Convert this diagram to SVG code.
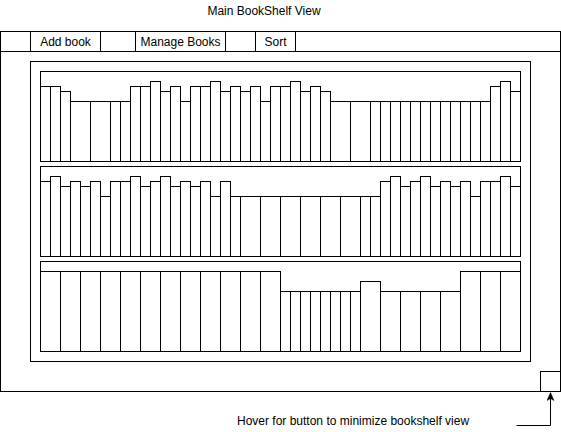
<svg xmlns="http://www.w3.org/2000/svg" width="561" height="432" viewBox="0 0 561 432">
<style>
rect, path, line { fill: #fff; stroke: #000; stroke-width: 1; }
.conn { fill: none; }
text { font-family: "Liberation Sans", Arial, sans-serif; font-size: 12px; fill: #000; }
.c { text-anchor: middle; }
</style>
<defs>
<marker id="arr" viewBox="0 0 8 8" refX="8" refY="4" markerWidth="8" markerHeight="8" orient="auto" markerUnits="userSpaceOnUse">
<path d="M0,0.5 L8,4 L0,7.5 L2,4 Z" style="fill:#000;stroke:#000;stroke-width:0.5"/>
</marker>
</defs>
<rect x="0" y="0" width="561" height="432" style="stroke:none;fill:#fff"/>
<text id="title" class="c" x="264" y="15">Main BookShelf View</text>
<g transform="translate(0.5,0.5)">
<g id="window">
<rect x="0" y="31" width="560" height="360"/>
<line x1="0" y1="51" x2="560" y2="51"/>
</g>
<g id="btn-add"><rect x="30" y="31" width="70" height="20"/></g>
<g id="btn-manage"><rect x="135" y="31" width="90" height="20"/></g>
<g id="btn-sort"><rect x="255" y="31" width="40" height="20"/></g>
<g id="frame"><rect x="30" y="61" width="500" height="300"/></g>
<g id="shelf1">
<rect x="40" y="71" width="480" height="90"/>
<rect x="40" y="86" width="10" height="75"/>
<rect x="50" y="86" width="10" height="75"/>
<rect x="60" y="91" width="10" height="70"/>
<rect x="70" y="101" width="20" height="60"/>
<rect x="90" y="101" width="20" height="60"/>
<rect x="110" y="101" width="10" height="60"/>
<rect x="120" y="101" width="10" height="60"/>
<rect x="130" y="86" width="10" height="75"/>
<rect x="140" y="86" width="10" height="75"/>
<rect x="150" y="81" width="10" height="80"/>
<rect x="160" y="91" width="10" height="70"/>
<rect x="170" y="86" width="10" height="75"/>
<rect x="180" y="101" width="10" height="60"/>
<rect x="190" y="86" width="10" height="75"/>
<rect x="200" y="86" width="10" height="75"/>
<rect x="210" y="81" width="10" height="80"/>
<rect x="220" y="91" width="10" height="70"/>
<rect x="230" y="86" width="10" height="75"/>
<rect x="240" y="91" width="10" height="70"/>
<rect x="250" y="86" width="10" height="75"/>
<rect x="260" y="101" width="10" height="60"/>
<rect x="270" y="86" width="10" height="75"/>
<rect x="280" y="86" width="10" height="75"/>
<rect x="290" y="81" width="10" height="80"/>
<rect x="300" y="91" width="10" height="70"/>
<rect x="310" y="86" width="10" height="75"/>
<rect x="320" y="91" width="10" height="70"/>
<rect x="330" y="101" width="20" height="60"/>
<rect x="350" y="101" width="20" height="60"/>
<rect x="370" y="101" width="10" height="60"/>
<rect x="380" y="101" width="10" height="60"/>
<rect x="390" y="101" width="10" height="60"/>
<rect x="400" y="101" width="10" height="60"/>
<rect x="410" y="101" width="10" height="60"/>
<rect x="420" y="101" width="10" height="60"/>
<rect x="430" y="101" width="10" height="60"/>
<rect x="440" y="101" width="10" height="60"/>
<rect x="450" y="101" width="10" height="60"/>
<rect x="460" y="101" width="10" height="60"/>
<rect x="470" y="101" width="10" height="60"/>
<rect x="480" y="101" width="10" height="60"/>
<rect x="490" y="86" width="10" height="75"/>
<rect x="500" y="81" width="10" height="80"/>
<rect x="510" y="91" width="10" height="70"/>
</g>
<g id="shelf2">
<rect x="40" y="166" width="480" height="90"/>
<rect x="40" y="181" width="10" height="75"/>
<rect x="50" y="176" width="10" height="80"/>
<rect x="60" y="186" width="10" height="70"/>
<rect x="70" y="181" width="10" height="75"/>
<rect x="80" y="186" width="10" height="70"/>
<rect x="90" y="181" width="10" height="75"/>
<rect x="100" y="196" width="10" height="60"/>
<rect x="110" y="181" width="10" height="75"/>
<rect x="120" y="181" width="10" height="75"/>
<rect x="130" y="176" width="10" height="80"/>
<rect x="140" y="186" width="10" height="70"/>
<rect x="150" y="181" width="10" height="75"/>
<rect x="160" y="176" width="10" height="80"/>
<rect x="170" y="186" width="10" height="70"/>
<rect x="180" y="181" width="10" height="75"/>
<rect x="190" y="186" width="10" height="70"/>
<rect x="200" y="181" width="10" height="75"/>
<rect x="210" y="196" width="10" height="60"/>
<rect x="220" y="181" width="10" height="75"/>
<rect x="230" y="196" width="10" height="60"/>
<rect x="240" y="196" width="20" height="60"/>
<rect x="260" y="196" width="20" height="60"/>
<rect x="280" y="196" width="20" height="60"/>
<rect x="300" y="196" width="20" height="60"/>
<rect x="320" y="196" width="20" height="60"/>
<rect x="340" y="196" width="20" height="60"/>
<rect x="360" y="196" width="10" height="60"/>
<rect x="370" y="196" width="10" height="60"/>
<rect x="380" y="181" width="10" height="75"/>
<rect x="390" y="176" width="10" height="80"/>
<rect x="400" y="186" width="10" height="70"/>
<rect x="410" y="181" width="10" height="75"/>
<rect x="420" y="176" width="10" height="80"/>
<rect x="430" y="186" width="10" height="70"/>
<rect x="440" y="181" width="10" height="75"/>
<rect x="450" y="186" width="10" height="70"/>
<rect x="460" y="181" width="10" height="75"/>
<rect x="470" y="196" width="10" height="60"/>
<rect x="480" y="181" width="10" height="75"/>
<rect x="490" y="181" width="10" height="75"/>
<rect x="500" y="176" width="10" height="80"/>
<rect x="510" y="186" width="10" height="70"/>
</g>
<g id="shelf3">
<rect x="40" y="261" width="480" height="90"/>
<rect x="40" y="271" width="20" height="80"/>
<rect x="60" y="271" width="20" height="80"/>
<rect x="80" y="271" width="20" height="80"/>
<rect x="100" y="271" width="20" height="80"/>
<rect x="120" y="271" width="20" height="80"/>
<rect x="140" y="271" width="20" height="80"/>
<rect x="160" y="271" width="20" height="80"/>
<rect x="180" y="271" width="20" height="80"/>
<rect x="200" y="271" width="20" height="80"/>
<rect x="220" y="271" width="20" height="80"/>
<rect x="240" y="271" width="20" height="80"/>
<rect x="260" y="271" width="20" height="80"/>
<rect x="280" y="291" width="10" height="60"/>
<rect x="290" y="291" width="10" height="60"/>
<rect x="300" y="291" width="10" height="60"/>
<rect x="310" y="291" width="10" height="60"/>
<rect x="320" y="291" width="10" height="60"/>
<rect x="330" y="291" width="10" height="60"/>
<rect x="340" y="291" width="10" height="60"/>
<rect x="350" y="291" width="10" height="60"/>
<rect x="360" y="281" width="20" height="70"/>
<rect x="380" y="291" width="20" height="60"/>
<rect x="400" y="291" width="20" height="60"/>
<rect x="420" y="291" width="20" height="60"/>
<rect x="440" y="291" width="20" height="60"/>
<rect x="460" y="271" width="20" height="80"/>
<rect x="480" y="271" width="20" height="80"/>
<rect x="500" y="271" width="20" height="80"/>
</g>
<g id="minimize-btn"><rect x="540" y="371" width="20" height="20"/></g>
<g id="connectors">
<path class="conn" d="M516,425 H550 V392" marker-end="url(#arr)"/>
</g>
</g>
<text class="c" x="65.5" y="46">Add book</text>
<text class="c" x="180.5" y="46">Manage Books</text>
<text class="c" x="275.5" y="46">Sort</text>
<text id="hover-label" x="237" y="425">Hover for button to minimize bookshelf view</text>
</svg>
